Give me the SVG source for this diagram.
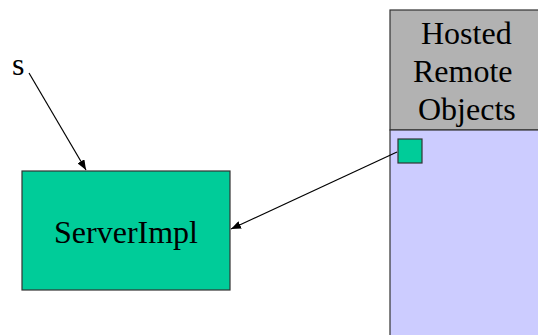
<svg xmlns="http://www.w3.org/2000/svg" width="538" height="335" viewBox="0 0 538 335">
  <style>
    .lbl { font-family: "Liberation Serif", "Times New Roman", serif; font-size: 32px; fill: #000; }
    .edge { stroke: #000; stroke-width: 1.2; fill: none; marker-end: url(#head); }
    .box { stroke: #333; stroke-width: 1.2; }
  </style>
  <defs>
    <marker id="head" viewBox="0 0 10 8" refX="10" refY="4" markerWidth="10" markerHeight="8" markerUnits="userSpaceOnUse" orient="auto">
      <path d="M0,0 L10,4 L0,8 Z" fill="#000"/>
    </marker>
  </defs>

  <rect width="538" height="335" fill="#fff"/>

  <!-- object host column: header and body -->
  <g id="hosted-remote-objects">
    <rect class="box" x="390" y="10" width="160" height="120" fill="#b2b2b2"/>
    <rect class="box" x="390" y="130" width="160" height="215" fill="#ccccff"/>
    <text class="lbl" x="421" y="44">Hosted</text>
    <text class="lbl" x="413" y="82">Remote</text>
    <text class="lbl" x="418" y="120">Objects</text>
  </g>

  <g id="hosted-object">
    <rect class="box" x="398" y="139" width="24" height="24" fill="#00cc99"/>
  </g>

  <g id="server-impl">
    <rect class="box" x="22" y="171" width="208" height="119" fill="#00cc99"/>
    <text class="lbl" x="126" y="243" text-anchor="middle">ServerImpl</text>
  </g>

  <g id="s-label">
    <text class="lbl" x="12" y="75">s</text>
  </g>

  <g id="connectors">
    <line class="edge" x1="29" y1="73" x2="86" y2="170"/>
    <line class="edge" x1="397" y1="152" x2="231" y2="229"/>
  </g>
</svg>
